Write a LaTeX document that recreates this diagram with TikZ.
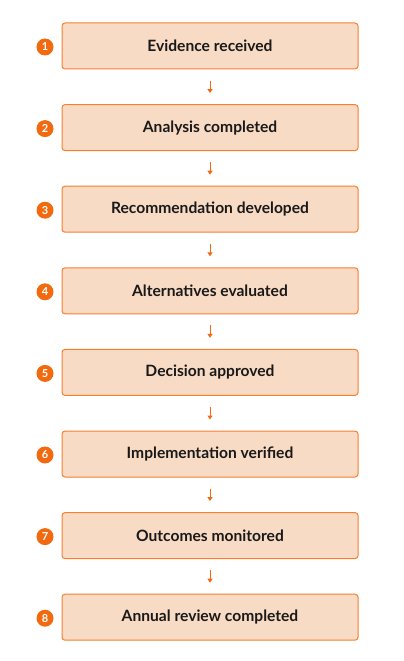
\documentclass[tikz,border=0pt]{standalone}
\usepackage{fontspec}
\setmainfont{Lato}
\usetikzlibrary{arrows.meta}
\definecolor{boxfill}{HTML}{F8DBC4}
\definecolor{boxline}{HTML}{F77F2E}
\definecolor{dot}{HTML}{F26A10}
\begin{document}
\begin{tikzpicture}[x=1pt,y=-1pt,
  stepbox/.style={draw=boxline,fill=boxfill,line width=1pt,rounded corners=3pt,
    minimum width=296pt,minimum height=46pt,inner sep=0pt,
    font=\fontsize{15.6}{18}\selectfont\bfseries,text=black!90},
  badge/.style={circle,fill=dot,minimum size=17pt,inner sep=0pt,
    font=\fontsize{11}{12}\selectfont\bfseries,text=white},
  flow/.style={draw=dot,line width=1pt,-{Triangle[length=4pt,width=5pt]},shorten <=11pt,shorten >=11pt}]
\useasboundingbox (0,0) rectangle (404,661);
\foreach \i/\t in {1/Evidence received,2/Analysis completed,3/Recommendation developed,4/Alternatives evaluated,5/Decision approved,6/Implementation verified,7/Outcomes monitored,8/Annual review completed}{
  \node[stepbox] (b\i) at (210,{46+(\i-1)*81.6}) {\t};
  \node[badge] (c\i) at (45,{47+(\i-1)*81.6}) {\i};
}
\foreach \i [evaluate=\i as \j using int(\i+1)] in {1,...,7}{
  \draw[flow] (b\i) -- (b\j);
}
\end{tikzpicture}
\end{document}
